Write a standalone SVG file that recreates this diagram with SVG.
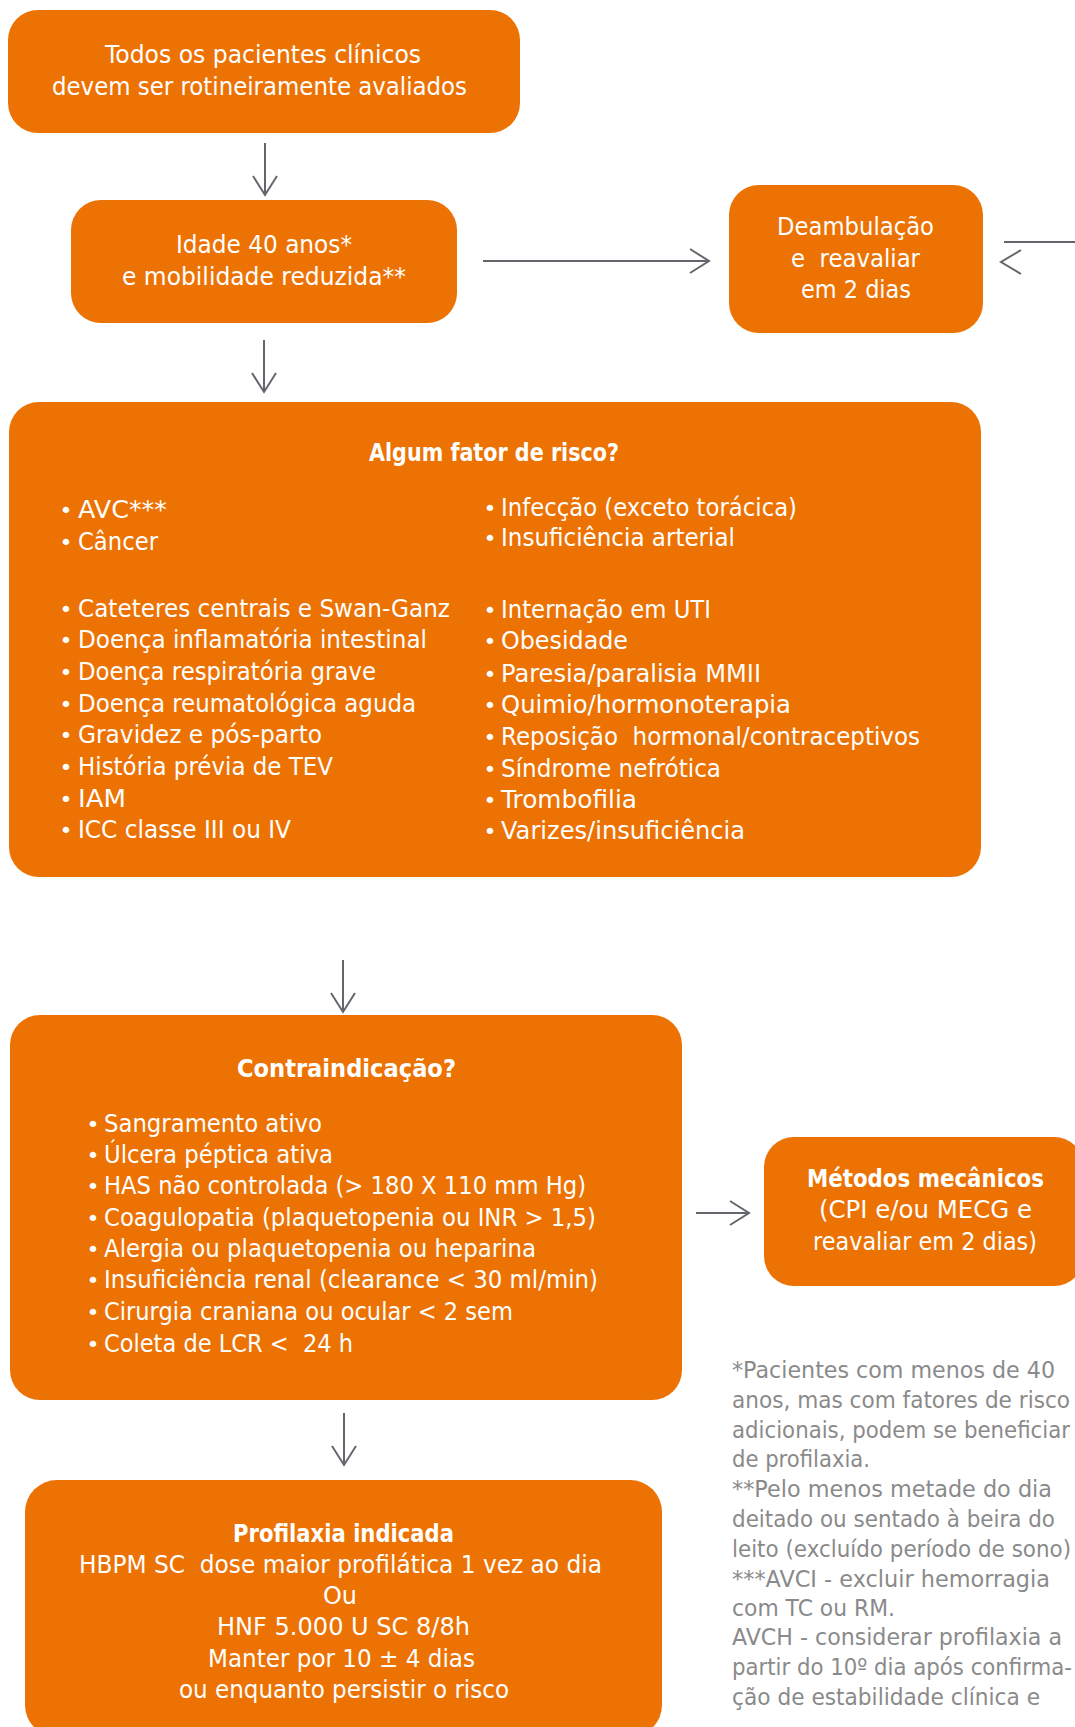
<svg xmlns="http://www.w3.org/2000/svg" width="1075" height="1727" viewBox="0 0 1075 1727">
  <style>
    .box { fill: #ED7204; }
    .t { font-family: "DejaVu Sans", "Liberation Sans", sans-serif; font-size: 24px; fill: #ffffff; white-space: pre; }
    .b { font-weight: bold; }
    .bul { font-family: "DejaVu Sans", "Liberation Sans", sans-serif; font-size: 22px; fill: #ffffff; text-anchor: middle; }
    .note { font-family: "DejaVu Sans", "Liberation Sans", sans-serif; font-size: 23px; fill: #8a8a8a; white-space: pre; }
    .conn { fill: none; stroke: #63666b; stroke-width: 2; }
  </style>
  <defs>
    <marker id="chev" markerUnits="userSpaceOnUse" markerWidth="40" markerHeight="40" refX="0" refY="0" orient="auto" overflow="visible">
      <path d="M-19,-12 L0,0 L-19,12" fill="none" stroke="#63666b" stroke-width="2"/>
    </marker>
  </defs>

  <rect width="1075" height="1727" fill="#ffffff"/>

  <!-- connectors -->
  <g id="connectors">
    <path class="conn" d="M265,143 V195" marker-end="url(#chev)"/>
    <path class="conn" d="M264,340 V392" marker-end="url(#chev)"/>
    <path class="conn" d="M483,261 H709" marker-end="url(#chev)"/>
    <path class="conn" d="M1004,242 H1075"/>
    <path class="conn" d="M1021,250 L1001,262 L1021,274"/>
    <path class="conn" d="M343,960 V1012" marker-end="url(#chev)"/>
    <path class="conn" d="M696,1213 H749" marker-end="url(#chev)"/>
    <path class="conn" d="M344,1413 V1465" marker-end="url(#chev)"/>
  </g>

  <!-- start -->
  <g id="n1">
    <rect class="box" x="8" y="10" width="512" height="123" rx="30"/>
    <text class="t" x="105" y="63" textLength="316" lengthAdjust="spacingAndGlyphs">Todos os pacientes clínicos</text>
    <text class="t" x="52" y="95" textLength="415" lengthAdjust="spacingAndGlyphs">devem ser rotineiramente avaliados</text>
  </g>

  <!-- age and mobility -->
  <g id="n2">
    <rect class="box" x="71" y="200" width="386" height="123" rx="30"/>
    <text class="t" x="176" y="253" textLength="176" lengthAdjust="spacingAndGlyphs">Idade 40 anos*</text>
    <text class="t" x="122" y="285" textLength="284" lengthAdjust="spacingAndGlyphs">e mobilidade reduzida**</text>
  </g>

  <!-- ambulation -->
  <g id="n3">
    <rect class="box" x="729" y="185" width="254" height="148" rx="30"/>
    <text class="t" x="777" y="235" textLength="157" lengthAdjust="spacingAndGlyphs">Deambulação</text>
    <text class="t" x="791" y="267" textLength="129" lengthAdjust="spacingAndGlyphs">e  reavaliar</text>
    <text class="t" x="801" y="298" textLength="110" lengthAdjust="spacingAndGlyphs">em 2 dias</text>
  </g>

  <!-- risk factors -->
  <g id="n4">
    <rect class="box" x="9" y="402" width="972" height="475" rx="30"/>
    <text class="t b" x="369" y="461" font-size="23" textLength="250" lengthAdjust="spacingAndGlyphs">Algum fator de risco?</text>

    <text class="bul" x="66" y="518">•</text>
    <text class="t" x="78" y="518" textLength="89" lengthAdjust="spacingAndGlyphs">AVC***</text>
    <text class="bul" x="66" y="550">•</text>
    <text class="t" x="78" y="550" textLength="80" lengthAdjust="spacingAndGlyphs">Câncer</text>
    <text class="bul" x="66" y="617">•</text>
    <text class="t" x="78" y="617" textLength="372" lengthAdjust="spacingAndGlyphs">Cateteres centrais e Swan-Ganz</text>
    <text class="bul" x="66" y="648">•</text>
    <text class="t" x="78" y="648" textLength="349" lengthAdjust="spacingAndGlyphs">Doença inflamatória intestinal</text>
    <text class="bul" x="66" y="680">•</text>
    <text class="t" x="78" y="680" textLength="298" lengthAdjust="spacingAndGlyphs">Doença respiratória grave</text>
    <text class="bul" x="66" y="712">•</text>
    <text class="t" x="78" y="712" textLength="338" lengthAdjust="spacingAndGlyphs">Doença reumatológica aguda</text>
    <text class="bul" x="66" y="743">•</text>
    <text class="t" x="78" y="743" textLength="244" lengthAdjust="spacingAndGlyphs">Gravidez e pós-parto</text>
    <text class="bul" x="66" y="775">•</text>
    <text class="t" x="78" y="775" textLength="255" lengthAdjust="spacingAndGlyphs">História prévia de TEV</text>
    <text class="bul" x="66" y="807">•</text>
    <text class="t" x="78" y="807" textLength="48" lengthAdjust="spacingAndGlyphs">IAM</text>
    <text class="bul" x="66" y="838">•</text>
    <text class="t" x="78" y="838" textLength="213" lengthAdjust="spacingAndGlyphs">ICC classe III ou IV</text>

    <text class="bul" x="490" y="516">•</text>
    <text class="t" x="501" y="516" textLength="296" lengthAdjust="spacingAndGlyphs">Infecção (exceto torácica)</text>
    <text class="bul" x="490" y="546">•</text>
    <text class="t" x="501" y="546" textLength="234" lengthAdjust="spacingAndGlyphs">Insuficiência arterial</text>
    <text class="bul" x="490" y="618">•</text>
    <text class="t" x="501" y="618" textLength="210" lengthAdjust="spacingAndGlyphs">Internação em UTI</text>
    <text class="bul" x="490" y="649">•</text>
    <text class="t" x="501" y="649" textLength="127" lengthAdjust="spacingAndGlyphs">Obesidade</text>
    <text class="bul" x="490" y="682">•</text>
    <text class="t" x="501" y="682" textLength="260" lengthAdjust="spacingAndGlyphs">Paresia/paralisia MMII</text>
    <text class="bul" x="490" y="713">•</text>
    <text class="t" x="501" y="713" textLength="290" lengthAdjust="spacingAndGlyphs">Quimio/hormonoterapia</text>
    <text class="bul" x="490" y="745">•</text>
    <text class="t" x="501" y="745" textLength="419" lengthAdjust="spacingAndGlyphs">Reposição  hormonal/contraceptivos</text>
    <text class="bul" x="490" y="777">•</text>
    <text class="t" x="501" y="777" textLength="220" lengthAdjust="spacingAndGlyphs">Síndrome nefrótica</text>
    <text class="bul" x="490" y="808">•</text>
    <text class="t" x="501" y="808" textLength="136" lengthAdjust="spacingAndGlyphs">Trombofilia</text>
    <text class="bul" x="490" y="839">•</text>
    <text class="t" x="501" y="839" textLength="244" lengthAdjust="spacingAndGlyphs">Varizes/insuficiência</text>
  </g>

  <!-- contraindications -->
  <g id="n5">
    <rect class="box" x="10" y="1015" width="672" height="385" rx="30"/>
    <text class="t b" x="237" y="1077" textLength="219" lengthAdjust="spacingAndGlyphs">Contraindicação?</text>
    <text class="bul" x="93" y="1132">•</text>
    <text class="t" x="104" y="1132" textLength="218" lengthAdjust="spacingAndGlyphs">Sangramento ativo</text>
    <text class="bul" x="93" y="1163">•</text>
    <text class="t" x="104" y="1163" textLength="229" lengthAdjust="spacingAndGlyphs">Úlcera péptica ativa</text>
    <text class="bul" x="93" y="1194">•</text>
    <text class="t" x="104" y="1194" textLength="482" lengthAdjust="spacingAndGlyphs">HAS não controlada (&gt; 180 X 110 mm Hg)</text>
    <text class="bul" x="93" y="1226">•</text>
    <text class="t" x="104" y="1226" textLength="492" lengthAdjust="spacingAndGlyphs">Coagulopatia (plaquetopenia ou INR &gt; 1,5)</text>
    <text class="bul" x="93" y="1257">•</text>
    <text class="t" x="104" y="1257" textLength="432" lengthAdjust="spacingAndGlyphs">Alergia ou plaquetopenia ou heparina</text>
    <text class="bul" x="93" y="1288">•</text>
    <text class="t" x="104" y="1288" textLength="494" lengthAdjust="spacingAndGlyphs">Insuficiência renal (clearance &lt; 30 ml/min)</text>
    <text class="bul" x="93" y="1320">•</text>
    <text class="t" x="104" y="1320" textLength="409" lengthAdjust="spacingAndGlyphs">Cirurgia craniana ou ocular &lt; 2 sem</text>
    <text class="bul" x="93" y="1352">•</text>
    <text class="t" x="104" y="1352" textLength="249" lengthAdjust="spacingAndGlyphs">Coleta de LCR &lt;  24 h</text>
  </g>

  <!-- mechanical methods -->
  <g id="n6">
    <rect class="box" x="764" y="1137" width="320" height="149" rx="30"/>
    <text class="t b" x="807" y="1187" textLength="237" lengthAdjust="spacingAndGlyphs">Métodos mecânicos</text>
    <text class="t" x="819" y="1218" textLength="213" lengthAdjust="spacingAndGlyphs">(CPI e/ou MECG e</text>
    <text class="t" x="813" y="1250" textLength="224" lengthAdjust="spacingAndGlyphs">reavaliar em 2 dias)</text>
  </g>

  <!-- prophylaxis -->
  <g id="n7">
    <rect class="box" x="25" y="1480" width="637" height="257" rx="32"/>
    <text class="t b" x="233" y="1542" textLength="221" lengthAdjust="spacingAndGlyphs">Profilaxia indicada</text>
    <text class="t" x="79" y="1573" textLength="523" lengthAdjust="spacingAndGlyphs">HBPM SC  dose maior profilática 1 vez ao dia</text>
    <text class="t" x="323" y="1604" textLength="34" lengthAdjust="spacingAndGlyphs">Ou</text>
    <text class="t" x="217" y="1635" textLength="253" lengthAdjust="spacingAndGlyphs">HNF 5.000 U SC 8/8h</text>
    <text class="t" x="208" y="1667" textLength="267" lengthAdjust="spacingAndGlyphs">Manter por 10 ± 4 dias</text>
    <text class="t" x="179" y="1698" textLength="330" lengthAdjust="spacingAndGlyphs">ou enquanto persistir o risco</text>
  </g>

  <!-- footnotes -->
  <g id="notes">
    <text class="note" x="732" y="1378" textLength="323" lengthAdjust="spacingAndGlyphs">*Pacientes com menos de 40</text>
    <text class="note" x="732" y="1408" textLength="338" lengthAdjust="spacingAndGlyphs">anos, mas com fatores de risco</text>
    <text class="note" x="732" y="1438" textLength="338" lengthAdjust="spacingAndGlyphs">adicionais, podem se beneficiar</text>
    <text class="note" x="732" y="1467" textLength="138" lengthAdjust="spacingAndGlyphs">de profilaxia.</text>
    <text class="note" x="732" y="1497" textLength="320" lengthAdjust="spacingAndGlyphs">**Pelo menos metade do dia</text>
    <text class="note" x="732" y="1527" textLength="323" lengthAdjust="spacingAndGlyphs">deitado ou sentado à beira do</text>
    <text class="note" x="732" y="1557" textLength="339" lengthAdjust="spacingAndGlyphs">leito (excluído período de sono)</text>
    <text class="note" x="732" y="1587" textLength="318" lengthAdjust="spacingAndGlyphs">***AVCI - excluir hemorragia</text>
    <text class="note" x="732" y="1616" textLength="163" lengthAdjust="spacingAndGlyphs">com TC ou RM.</text>
    <text class="note" x="732" y="1645" textLength="330" lengthAdjust="spacingAndGlyphs">AVCH - considerar profilaxia a</text>
    <text class="note" x="732" y="1675" textLength="340" lengthAdjust="spacingAndGlyphs">partir do 10º dia após confirma-</text>
    <text class="note" x="732" y="1705" textLength="308" lengthAdjust="spacingAndGlyphs">ção de estabilidade clínica e</text>
  </g>
</svg>
